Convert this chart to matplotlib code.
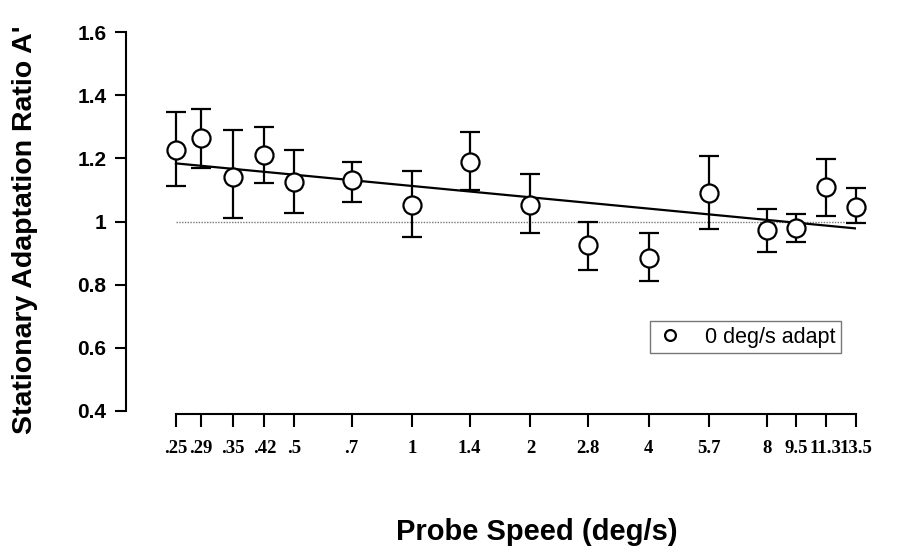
import numpy as np
import matplotlib
matplotlib.use("Agg")
from matplotlib import pyplot as plt

# probe speeds (deg/s) and adaptation ratios
speeds = [0.25, 0.29, 0.35, 0.42, 0.5, 0.7, 1, 1.4, 2, 2.8, 4, 5.7, 8, 9.5, 11.3, 13.5]
ratio = [1.226, 1.263, 1.140, 1.211, 1.124, 1.131, 1.052, 1.187,
         1.052, 0.926, 0.885, 1.089, 0.973, 0.980, 1.110, 1.047]
err_hi = [1.348, 1.355, 1.290, 1.300, 1.226, 1.189, 1.161, 1.282,
          1.149, 0.999, 0.964, 1.208, 1.040, 1.023, 1.197, 1.105]
err_lo = [1.113, 1.168, 1.010, 1.121, 1.028, 1.061, 0.952, 1.100,
          0.964, 0.846, 0.812, 0.976, 0.904, 0.934, 1.017, 0.994]

# regression line end points
fit_x = [0.25, 13.5]
fit_y = [1.184, 0.978]

tick_labels = [".25", ".29", ".35", ".42", ".5", ".7", "1", "1.4", "2",
               "2.8", "4", "5.7", "8", "9.5", "11.3", "13.5"]
y_ticks = [0.4, 0.6, 0.8, 1.0, 1.2, 1.4, 1.6]
y_labels = ["0.4", "0.6", "0.8", "1", "1.2", "1.4", "1.6"]

W, H = 902, 551
fig = plt.figure(figsize=(W / 100, H / 100), dpi=100)
ax = fig.add_axes([126 / W, 1 - 411 / H, (856 - 126) / W, (411 - 32) / H])

ax.set_xscale("log")
ax.set_xlim(0.25 * np.exp(-50 / 170.5), 13.5)
ax.set_ylim(0.4, 1.6)

# reference line at 1 and the fit
ax.plot([0.25, 14.0], [1, 1], color="#777777", lw=1.0, ls=(0, (1, 1)), zorder=1, clip_on=False)
ax.plot(fit_x, fit_y, color="black", lw=1.6, zorder=2)

yerr = [np.array(ratio) - np.array(err_lo), np.array(err_hi) - np.array(ratio)]
ax.errorbar(speeds, ratio, yerr=yerr, fmt="none", ecolor="black", elinewidth=1.6,
            capsize=7, capthick=1.6, zorder=3, clip_on=False)
ax.plot(speeds, ratio, "o", ms=13, mfc="white", mec="black", mew=1.6, zorder=4,
        ls="none", clip_on=False, label="0 deg/s adapt")

# axes styling
for s in ["top", "right"]:
    ax.spines[s].set_visible(False)
ax.spines["left"].set_linewidth(1.5)
ax.spines["bottom"].set_linewidth(1.5)
ax.spines["bottom"].set_position(("outward", 2))
ax.spines["bottom"].set_bounds(0.25, 13.5)

ax.set_xticks(speeds)
ax.set_xticklabels(tick_labels, fontfamily="Liberation Serif", fontweight="bold", fontsize=13.5)
ax.xaxis.set_minor_locator(matplotlib.ticker.NullLocator())
ax.tick_params(axis="x", direction="out", length=9, width=1.5, pad=10)

ax.set_yticks(y_ticks)
ax.set_yticklabels(y_labels, fontfamily="Liberation Sans", fontweight="bold", fontsize=15)
ax.tick_params(axis="y", direction="out", length=8, width=1.5, pad=6)

leg = ax.legend(loc="lower left", bbox_to_anchor=(0.718, 0.153), borderaxespad=0,
                frameon=True, fancybox=False, markerscale=0.6, handletextpad=1.0,
                handlelength=1.3, borderpad=0.25, prop={"family": "Liberation Sans", "size": 15.5})
leg.get_frame().set_edgecolor("#555555")
leg.get_frame().set_linewidth(1.0)

fig.text(25 / W, 1 - 230 / H, "Stationary Adaptation Ratio A'", rotation=90,
         ha="center", va="center", fontfamily="Liberation Sans", fontweight="bold", fontsize=20.5)
fig.text(537 / W, 1 - 532 / H, "Probe Speed (deg/s)", ha="center", va="center",
         fontfamily="Liberation Sans", fontweight="bold", fontsize=21)

fig.savefig("out.png", dpi=100)
